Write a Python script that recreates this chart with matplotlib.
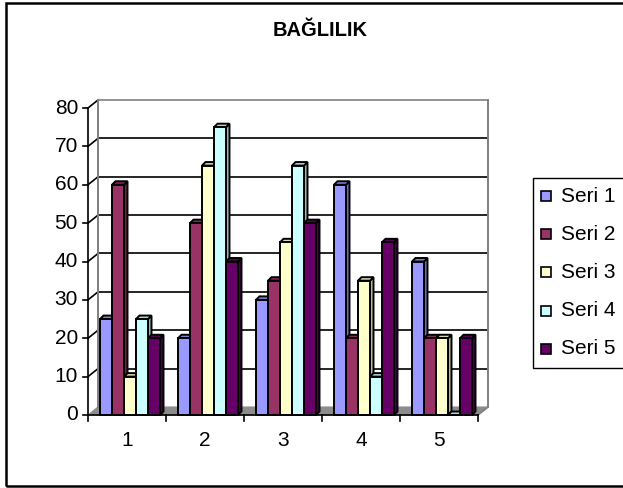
import matplotlib
matplotlib.use("Agg")
import matplotlib.pyplot as plt
from matplotlib.patches import Polygon, Rectangle
from matplotlib.colors import to_rgb

plt.rcParams["font.family"] = ["Liberation Sans", "DejaVu Sans"]

# data
categories = ["1", "2", "3", "4", "5"]
series_names = ["Seri 1", "Seri 2", "Seri 3", "Seri 4", "Seri 5"]
seri1 = [25, 20, 30, 60, 40]
seri2 = [60, 50, 35, 20, 20]
seri3 = [10, 65, 45, 35, 20]
seri4 = [25, 75, 65, 10, 0]
seri5 = [20, 40, 50, 45, 20]
y_ticks = [0, 10, 20, 30, 40, 50, 60, 70, 80]

series = [seri1, seri2, seri3, seri4, seri5]
colors = ["#9999FF", "#993366", "#FFFFCC", "#CCFFFF", "#660066"]

W, H = 623, 488
FS = 15


def shade(color, f):
    r, g, b = to_rgb(color)
    return (r * f, g * f, b * f)


def fig_xy(px, py):
    return px / W, 1 - py / H


fig = plt.figure(figsize=(W / 100, H / 100), dpi=100)
# front plane of the plot: x 88..478 px, y 415..108 px
ax = fig.add_axes([88 / W, (H - 415) / H, 390 / W, 307 / H])
ax.set_xlim(0.5, 5.5)
ax.set_ylim(0, 80)
ax.axis("off")

px_x = 390 / 5.0     # px per category
px_y = 307 / 80.0    # px per unit
dx = 10 / px_x       # wall depth
dy = 8 / px_y
bdx = 3.5 / px_x     # bar depth
bdy = 3.5 / px_y
bw = 12 / px_x       # bar width
off = 12 / px_x
LW = 1.4

# floor
ax.add_patch(Polygon([(0.5, 0), (5.5, 0), (5.5 + dx, dy), (0.5 + dx, dy)],
                     closed=True, facecolor="#8c8c8c", edgecolor="#8c8c8c",
                     lw=0.8, clip_on=False, zorder=1))
# back wall gridlines and left wall diagonals
for v in y_ticks[1:]:
    col = "#808080" if v == 80 else "black"
    ax.plot([0.5 + dx, 5.5 + dx], [v + dy, v + dy], color=col, lw=1.2,
            clip_on=False, zorder=1)
    ax.plot([0.5, 0.5 + dx], [v, v + dy], color="black", lw=1.2,
            clip_on=False, zorder=1)
ax.plot([0.5 + dx, 0.5 + dx], [dy, 80 + dy], color="#808080", lw=1.4,
        clip_on=False, zorder=1)
ax.plot([5.5 + dx, 5.5 + dx], [dy, 80 + dy], color="#808080", lw=1.4,
        clip_on=False, zorder=1)
ax.plot([5.5, 5.5 + dx], [0, dy], color="#808080", lw=1.2,
        clip_on=False, zorder=1)

# bars
for c in range(len(categories)):
    for i, vals in enumerate(series):
        h = vals[c]
        x0 = c + 1 - 0.5 + off + i * bw
        z = 3 + c * 10 + i
        side = [(x0 + bw, 0), (x0 + bw + bdx, bdy), (x0 + bw + bdx, h + bdy), (x0 + bw, h)]
        top = [(x0, h), (x0 + bw, h), (x0 + bw + bdx, h + bdy), (x0 + bdx, h + bdy)]
        ax.add_patch(Polygon(side, closed=True, facecolor=shade(colors[i], 0.72),
                             edgecolor="black", lw=LW, zorder=z, clip_on=False,
                             joinstyle="miter"))
        ax.add_patch(Polygon(top, closed=True, facecolor=shade(colors[i], 0.85),
                             edgecolor="black", lw=LW, zorder=z, clip_on=False,
                             joinstyle="miter"))
        if h > 0:
            ax.add_patch(Rectangle((x0, 0), bw, h, facecolor=colors[i],
                                   edgecolor="black", lw=LW, zorder=z, clip_on=False,
                                   joinstyle="miter"))

# axes lines and ticks
ax.plot([0.5, 0.5], [0, 80], color="black", lw=1.2, clip_on=False, zorder=100)
ax.plot([0.5, 5.5], [0, 0], color="black", lw=1.2, clip_on=False, zorder=100)
tlx = 5 / px_x
for v in y_ticks:
    ax.plot([0.5 - tlx, 0.5], [v, v], color="black", lw=1.2, clip_on=False, zorder=100)
    ax.text(0.5 - 10 / px_x, v, str(v), ha="right", va="center", fontsize=FS)
tly = 6 / px_y
for k in range(len(categories) + 1):
    ax.plot([0.5 + k, 0.5 + k], [0, -tly], color="black", lw=1.2, clip_on=False, zorder=100)
for k, lab in enumerate(categories):
    ax.text(k + 1, -25 / px_y, lab, ha="center", va="center", fontsize=FS)

# title
tx, ty = fig_xy(320, 31)
fig.text(tx, ty, "BAĞLILIK", ha="center", va="center", fontsize=14.5, fontweight="bold")

# outer border
bx, by = fig_xy(6, 486)
fig.add_artist(Rectangle((bx, by), 700 / W, 483 / H, transform=fig.transFigure,
                         facecolor="none", edgecolor="black", lw=1.8, clip_on=False))

# legend
lx, ly = fig_xy(533, 368)
fig.add_artist(Rectangle((lx, ly), 200 / W, 190 / H, transform=fig.transFigure,
                         facecolor="white", edgecolor="black", lw=1.0, clip_on=False))
for i, name in enumerate(series_names):
    cy = 196 + i * 38.2
    mx, my = fig_xy(541, cy + 5)
    fig.add_artist(Rectangle((mx, my), 10 / W, 10 / H, transform=fig.transFigure,
                             facecolor=colors[i], edgecolor="black", lw=1.2))
    t_x, t_y = fig_xy(561, cy)
    fig.text(t_x, t_y, name, ha="left", va="center", fontsize=FS)

fig.savefig("out.png", dpi=100)
